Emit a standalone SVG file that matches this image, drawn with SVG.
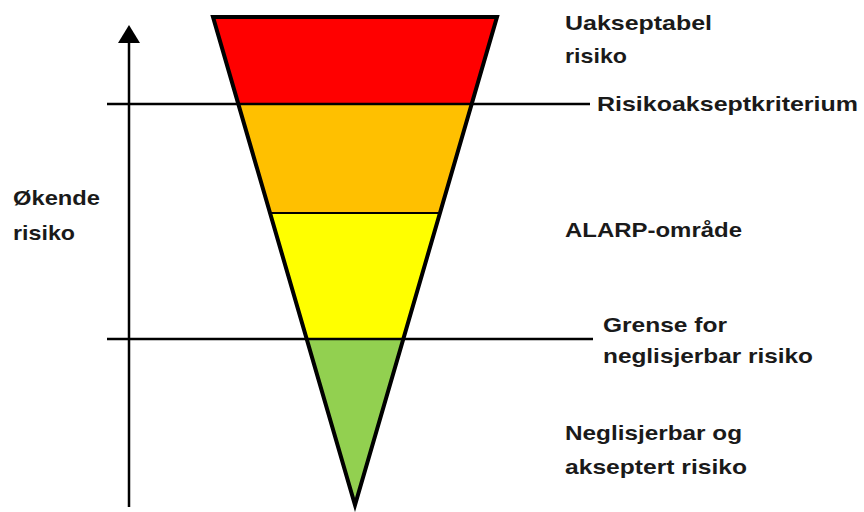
<svg xmlns="http://www.w3.org/2000/svg" width="864" height="512" viewBox="0 0 864 512">
<style>
.t{font-family:"Liberation Sans",Arial,sans-serif;font-weight:bold;font-size:21px;fill:#1a1a1a}
.band{stroke:#000;stroke-width:2}
.edge{fill:none;stroke:#000;stroke-width:4;stroke-linejoin:miter}
.ln{stroke:#000;stroke-width:2.5;fill:none}
</style>
<rect width="864" height="512" fill="#fff"/>
<g id="triangle">
<polygon class="band" fill="#ff0000" points="213,17 497,17 471.7,104 238.3,104"/>
<polygon class="band" fill="#ffc000" points="238.3,104 471.7,104 440,213 270,213"/>
<polygon class="band" fill="#ffff00" points="270,213 440,213 403.3,339 306.7,339"/>
<polygon class="band" fill="#92d050" points="306.7,339 403.3,339 355,505"/>
<polygon class="edge" points="213,17 497,17 355,505"/>
</g>
<g id="connectors">
<line class="ln" x1="107" y1="104" x2="590" y2="104"/>
<line class="ln" x1="107" y1="339" x2="593" y2="339"/>
<line class="ln" x1="129" y1="40" x2="129" y2="507"/>
<polygon points="129,25 118,43 140,43" fill="#000"/>
</g>
<g id="labels">
<text class="t" x="565" y="30" textLength="147" lengthAdjust="spacingAndGlyphs">Uakseptabel</text>
<text class="t" x="565" y="63" textLength="62" lengthAdjust="spacingAndGlyphs">risiko</text>
<text class="t" x="597" y="111" textLength="261" lengthAdjust="spacingAndGlyphs">Risikoakseptkriterium</text>
<text class="t" x="565" y="237" textLength="177" lengthAdjust="spacingAndGlyphs">ALARP-område</text>
<text class="t" x="603" y="332" textLength="124" lengthAdjust="spacingAndGlyphs">Grense for</text>
<text class="t" x="603" y="363" textLength="210" lengthAdjust="spacingAndGlyphs">neglisjerbar risiko</text>
<text class="t" x="565" y="440" textLength="177" lengthAdjust="spacingAndGlyphs">Neglisjerbar og</text>
<text class="t" x="565" y="474" textLength="182" lengthAdjust="spacingAndGlyphs">akseptert risiko</text>
<text class="t" x="13" y="205" textLength="87" lengthAdjust="spacingAndGlyphs">Økende</text>
<text class="t" x="13" y="240" textLength="62" lengthAdjust="spacingAndGlyphs">risiko</text>
</g>
</svg>
